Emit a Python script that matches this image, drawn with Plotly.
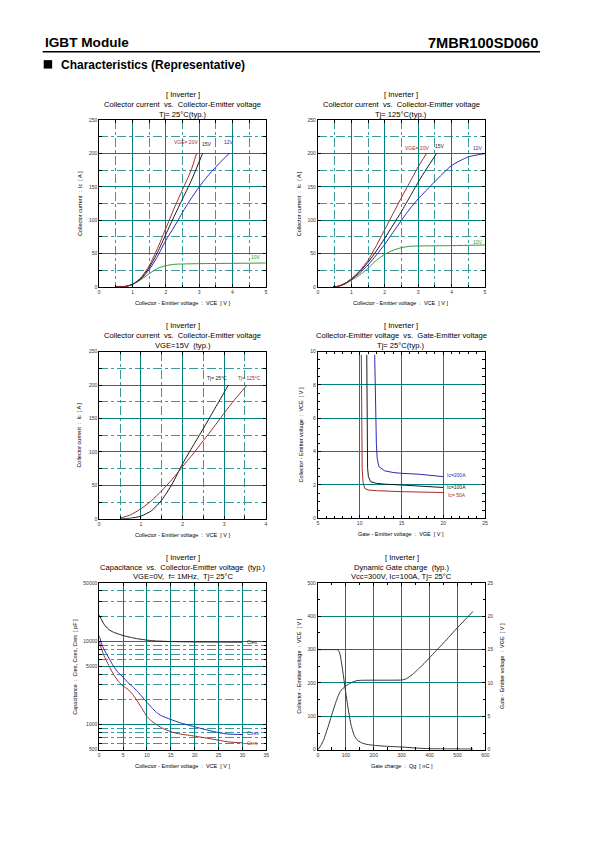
import math
import plotly.graph_objects as go

W, H = 595, 842
OFF = 8  # default page body margin of the browser
FONT = "Liberation Sans, Arial, Helvetica, sans-serif"
TEAL = "#008080"
RED = "#a52a2a"
BLUE = "#2a2ab8"
GREEN = "#2e9e2e"
BLACK = "#1a1a1a"

# ---------------- data ----------------
# Chart 1: Ic vs VCE, Tj=25C
c1_20v_x = [0.5, 0.8, 1.0, 1.25, 1.5, 1.75, 2.0, 2.25, 2.5, 2.75, 2.92]
c1_20v_y = [0, 1, 4, 14, 32, 58, 88, 118, 146, 174, 200]
c1_15v_x = [0.5, 0.8, 1.0, 1.25, 1.5, 1.75, 2.0, 2.25, 2.5, 2.75, 3.1]
c1_15v_y = [0, 1, 4, 13, 29, 52, 79, 106, 132, 158, 200]
c1_12v_x = [0.5, 0.8, 1.0, 1.25, 1.5, 1.75, 2.0, 2.25, 2.5, 2.75, 3.0, 3.25, 3.5, 3.75, 3.9]
c1_12v_y = [0, 1, 4, 12, 26, 46, 70, 90, 112, 132, 150, 166, 180, 193, 200]
c1_10v_x = [0.5, 0.8, 1.0, 1.25, 1.5, 1.75, 2.0, 2.25, 2.5, 3.0, 4.0, 5.0]
c1_10v_y = [0, 1, 4, 11, 20, 28, 32, 34, 34.5, 35, 35.5, 36]

# Chart 2: Ic vs VCE, Tj=125C
c2_20v_x = [0.45, 0.6, 0.8, 1.0, 1.25, 1.5, 1.75, 2.0, 2.25, 2.5, 2.75, 3.0, 3.25]
c2_20v_y = [0, 1, 5, 12, 24, 40, 62, 86, 110, 134, 157, 180, 200]
c2_15v_x = [0.45, 0.6, 0.8, 1.0, 1.25, 1.5, 1.75, 2.0, 2.25, 2.5, 2.75, 3.0, 3.25, 3.55]
c2_15v_y = [0, 1, 5, 12, 23, 37, 54, 73, 93, 113, 135, 157, 177, 200]
c2_12v_x = [0.45, 0.6, 0.8, 1.0, 1.25, 1.5, 1.75, 2.0, 2.25, 2.5, 2.75, 3.0, 3.5, 4.0, 4.5, 5.0]
c2_12v_y = [0, 1, 5, 11, 21, 33, 48, 64, 82, 100, 117, 132, 158, 182, 195, 200]
c2_10v_x = [0.45, 0.6, 0.8, 1.0, 1.25, 1.5, 1.75, 2.0, 2.25, 2.5, 2.75, 3.0, 4.0, 5.0]
c2_10v_y = [0, 1, 4, 10, 18, 28, 40, 49, 55, 59, 61, 61.5, 62, 63]

# Chart 3: Ic vs VCE, VGE=15V
c3_25_x = [0.5, 0.75, 1.0, 1.25, 1.5, 1.75, 2.0, 2.25, 2.5, 2.75, 3.0, 3.1]
c3_25_y = [0, 1, 4, 12, 28, 52, 82, 109, 135, 162, 189, 200]
c3_125_x = [0.5, 0.75, 1.0, 1.25, 1.5, 1.75, 2.0, 2.25, 2.5, 2.75, 3.0, 3.25, 3.55]
c3_125_y = [1, 6, 15, 27, 42, 59, 78, 97, 117, 137, 158, 178, 200]

# Chart 4: VCE vs VGE
c4_50_x = [10.2, 10.22, 10.25, 10.3, 10.4, 10.6, 11.0, 12.0, 15.0, 20.0]
c4_50_y = [9.8, 6.0, 4.0, 3.0, 2.2, 1.8, 1.7, 1.66, 1.6, 1.55]
c4_100_x = [10.85, 10.87, 10.9, 10.95, 11.05, 11.3, 12.0, 13.0, 15.0, 20.0]
c4_100_y = [9.8, 6.0, 4.0, 3.0, 2.5, 2.2, 2.1, 2.05, 2.0, 1.85]
c4_200_x = [11.8, 11.85, 11.95, 12.0, 12.1, 12.3, 13.0, 14.0, 15.0, 17.0, 20.0]
c4_200_y = [9.8, 8.0, 6.0, 4.5, 3.6, 3.1, 2.85, 2.75, 2.7, 2.65, 2.5]

# Chart 5: Capacitance vs VCE
c5_x = [0, 0.5, 1, 2, 3, 4, 5, 6, 7, 8, 9, 10, 11, 12, 13, 15, 17, 20, 23, 25, 27, 30]
cies = [20500, 18000, 16000, 13800, 12800, 12200, 11700, 11300, 11000, 10700, 10500, 10300,
        10150, 10050, 10000, 9900, 9850, 9800, 9780, 9760, 9750, 9750]
coes = [11600, 9300, 8000, 6300, 5000, 4200, 3700, 3200, 2850, 2500, 2150, 1850,
        1600, 1400, 1280, 1150, 1050, 940, 850, 800, 770, 760]
cres = [9800, 8000, 6700, 5100, 4000, 3300, 2900, 2650, 2300, 1900, 1550, 1250,
        1100, 1000, 920, 820, 770, 728, 680, 650, 620, 605]

# Chart 6: Dynamic gate charge
c6_vce_q = [0, 30, 60, 72, 78, 84, 90, 96, 102, 108, 114, 120, 126, 131, 140, 155, 175, 202,
            250, 303, 350, 400, 450, 555]
c6_vce = [300, 300, 300, 299, 290, 264, 230, 194, 158, 125, 95, 70, 53, 41, 30, 21, 16, 13,
          10, 8, 5, 3, 2.5, 2]
c6_vge_q = [0, 10, 20, 37, 54, 65, 72, 80, 90, 102, 115, 125, 140, 155, 200, 250, 300, 315,
            330, 345, 360, 380, 400, 450, 500, 555]
c6_vge = [0, 0.6, 1.4, 3.5, 5.8, 7.2, 8.0, 8.7, 9.2, 9.6, 9.95, 10.15, 10.35, 10.4, 10.42,
          10.42, 10.45, 10.6, 11.0, 11.5, 12.1, 12.9, 13.8, 16.0, 18.3, 20.7]

# ---------------- helpers ----------------
def px(x):
    return (x - OFF) / W


def py(y):
    return 1 - (y - OFF) / H


fig = go.Figure()
annotations = []
shapes = []


def txt(x, y, s, size=7, color="black", angle=0, xanchor="center", bold=False):
    if bold:
        s = "<b>" + s + "</b>"
    annotations.append(dict(x=px(x), y=py(y), xref="paper", yref="paper", text=s,
                            showarrow=False, textangle=angle, xanchor=xanchor,
                            yanchor="middle",
                            font=dict(size=size, color=color, family=FONT)))


def dlabel(n, x, y, s, color):
    xr = "x" if n == 1 else "x%d" % n
    yr = "y" if n == 1 else "y%d" % n
    annotations.append(dict(x=x, y=y, xref=xr, yref=yr, text=s, showarrow=False,
                            xanchor="center", yanchor="middle",
                            font=dict(size=5, color=color, family=FONT)))


def line(n, xs, ys, color, yaxis=None, shape="spline"):
    xa = "x" if n == 1 else "x%d" % n
    ya = yaxis if yaxis else ("y" if n == 1 else "y%d" % n)
    fig.add_trace(go.Scatter(x=xs, y=ys, mode="lines", xaxis=xa, yaxis=ya,
                             line=dict(color=color, width=1, shape=shape, smoothing=0.6),
                             showlegend=False, hoverinfo="skip"))


def axis(dom, anchor, rng, dtick=None, minor_dtick=None, minor_grid=False, **kw):
    d = dict(domain=dom, anchor=anchor, range=rng, showline=True, linecolor="black",
             linewidth=1, mirror="ticks", ticks="inside", ticklen=3, tickcolor="black",
             tickwidth=0.7,
             tickfont=dict(size=5, color="#333", family=FONT), showgrid=True,
             gridcolor=TEAL, gridwidth=1, zeroline=False, fixedrange=True)
    if dtick is not None:
        d["dtick"] = dtick
        d["tick0"] = 0
    if minor_dtick is not None:
        d["minor"] = dict(dtick=minor_dtick, ticks="inside", ticklen=2.5,
                          tickcolor="black", tickwidth=0.7, showgrid=minor_grid,
                          gridcolor="#3a9a9a", gridwidth=0.6, griddash="dashdot")
    d.update(kw)
    return d


# plot area pixel boxes (left, right, top, bottom) in page pixels
boxes = {
    1: (99, 267, 118, 286),
    2: (319.5, 488, 118, 286),
    3: (99, 267, 351, 519.5),
    4: (319.5, 488, 351, 519),
    5: (99, 267.5, 584, 752),
    6: (319.5, 488.5, 584, 752),
}


def xdom(n):
    b = boxes[n]
    return [px(b[0]), px(b[1])]


def ydom(n):
    b = boxes[n]
    return [py(b[3]), py(b[2])]


# ---------------- traces ----------------
line(1, c1_10v_x, c1_10v_y, GREEN)
line(1, c1_12v_x, c1_12v_y, BLUE)
line(1, c1_15v_x, c1_15v_y, BLACK)
line(1, c1_20v_x, c1_20v_y, RED)

line(2, c2_10v_x, c2_10v_y, GREEN)
line(2, c2_12v_x, c2_12v_y, BLUE)
line(2, c2_15v_x, c2_15v_y, BLACK)
line(2, c2_20v_x, c2_20v_y, RED)

line(3, c3_25_x, c3_25_y, BLACK)
line(3, c3_125_x, c3_125_y, RED)

line(4, c4_50_x, c4_50_y, RED, shape="linear")
line(4, c4_100_x, c4_100_y, BLACK, shape="linear")
line(4, c4_200_x, c4_200_y, BLUE, shape="linear")

line(5, c5_x, cies, BLACK)
line(5, c5_x, coes, BLUE)
line(5, c5_x, cres, RED)

line(6, c6_vce_q, c6_vce, "#333333")
line(6, c6_vge_q, c6_vge, "#333333", yaxis="y7")

# ---------------- axes ----------------
layout_axes = {}
layout_axes["xaxis"] = axis(xdom(1), "y", [0, 5], 1, 0.5, True)
layout_axes["yaxis"] = axis(ydom(1), "x", [0, 250], 50, 25, True)
layout_axes["xaxis2"] = axis(xdom(2), "y2", [0, 5], 1, 0.5, True)
layout_axes["yaxis2"] = axis(ydom(2), "x2", [0, 250], 50, 25, True)
layout_axes["xaxis3"] = axis(xdom(3), "y3", [0, 4], 1, 0.5, True)
layout_axes["yaxis3"] = axis(ydom(3), "x3", [0, 250], 50, 25, True)
layout_axes["xaxis4"] = axis(xdom(4), "y4", [5, 25], 5, 1, False)
layout_axes["yaxis4"] = axis(ydom(4), "x4", [0, 10], 2, 0.5, False)
layout_axes["xaxis5"] = axis(xdom(5), "y5", [0, 35], 5, None, False)
cap_ticks = [500, 1000, 5000, 10000, 50000]
cap_minor = [600, 700, 800, 900, 2000, 3000, 4000, 6000, 7000, 8000, 9000, 20000, 30000, 40000]
y5 = axis(ydom(5), "x5", [math.log10(500), math.log10(50000)], None, None, False,
          type="log", tickmode="array", tickvals=cap_ticks,
          ticktext=[str(v) for v in cap_ticks])
y5["minor"] = dict(tickmode="array", tickvals=cap_minor, ticks="inside", ticklen=2.5,
                   tickcolor="black", tickwidth=0.7, showgrid=True, gridcolor="#3a9a9a",
                   gridwidth=0.6, griddash="dashdot")
layout_axes["yaxis5"] = y5
layout_axes["xaxis6"] = axis(xdom(6), "y6", [0, 600], 100, 50, False)
layout_axes["yaxis6"] = axis(ydom(6), "x6", [0, 500], 100, 50, False, mirror=True)
layout_axes["yaxis7"] = axis(ydom(6), "x6", [0, 25], 5, 2.5, False, overlaying="y6",
                             side="right", showgrid=False, mirror=False)

# ---------------- texts ----------------
# header
txt(42, 40, "IGBT Module", size=13.6, xanchor="left", bold=True)
txt(543.5, 40, "7MBR100SD060", size=14.6, xanchor="right", bold=True)
shapes.append(dict(type="line", xref="paper", yref="paper", x0=px(42), x1=px(543.5),
                   y0=py(49), y1=py(49), line=dict(color="black", width=1.6)))
shapes.append(dict(type="rect", xref="paper", yref="paper", x0=px(43), x1=px(51.5),
                   y0=py(66), y1=py(57.5), fillcolor="black", line=dict(width=0)))
txt(58, 62, "Characteristics (Representative)", size=12, xanchor="left", bold=True)

titles = {
    1: ("[ Inverter ]", "Collector current  vs.  Collector-Emitter voltage", "Tj= 25°C(typ.)"),
    2: ("[ Inverter ]", "Collector current  vs.  Collector-Emitter voltage", "Tj= 125°C(typ.)"),
    3: ("[ Inverter ]", "Collector current  vs.  Collector-Emitter voltage", "VGE=15V  (typ.)"),
    4: ("[ Inverter ]", "Collector-Emitter voltage  vs.  Gate-Emitter voltage", "Tj= 25°C(typ.)"),
    5: ("[ Inverter ]", "Capacitance  vs.  Collector-Emitter voltage  (typ.)",
        "VGE=0V,  f= 1MHz,  Tj= 25°C"),
    6: ("[ Inverter ]", "Dynamic Gate charge  (typ.)", "Vcc=300V, Ic=100A, Tj= 25°C"),
}
for n, (a, b, c) in titles.items():
    l, r, t, bt = boxes[n]
    cx = (l + r) / 2
    txt(cx, t - 26, a, size=7.6)
    txt(cx, t - 16, b, size=7.6)
    txt(cx, t - 6, c, size=7.6)

XT_VCE = "Collector - Emitter voltage  :  VCE  [ V ]"
xtitles = {1: XT_VCE, 2: XT_VCE, 3: XT_VCE, 4: "Gate - Emitter voltage  :  VGE  [ V ]",
           5: XT_VCE, 6: "Gate charge  :  Qg  [ nC ]"}
ytitles = {1: "Collector current  :  Ic  [ A ]", 2: "Collector current  :  Ic  [ A ]",
           3: "Collector current  :  Ic  [ A ]", 4: XT_VCE,
           5: "Capacitance  :  Cies, Coes, Cres  [ pF ]", 6: XT_VCE}
yt_x = {1: 79, 2: 300, 3: 79, 4: 302, 5: 75, 6: 301}
for n in boxes:
    l, r, t, bt = boxes[n]
    txt((l + r) / 2, bt + 16, xtitles[n], size=5.5)
    txt(yt_x[n], (t + bt) / 2, ytitles[n], size=5.5, angle=-90)
txt(505, 668, "Gate - Emitter voltage  :  VGE  [ V ]", size=5.5, angle=-90)

# data labels
dlabel(1, 2.6, 217, "VGE= 20V", RED)
dlabel(1, 3.22, 215, "15V", BLACK)
dlabel(1, 3.9, 217, "12V", BLUE)
dlabel(1, 4.72, 45, "10V", GREEN)
dlabel(2, 2.97, 208, "VGE= 20V", RED)
dlabel(2, 3.65, 211, "15V", BLACK)
dlabel(2, 4.8, 208, "12V", BLUE)
dlabel(2, 4.78, 68, "10V", GREEN)
dlabel(3, 2.82, 211, "Tj= 25°C", BLACK)
dlabel(3, 3.6, 211, "Tj= 125°C", RED)
dlabel(4, 21.6, 2.6, "Ic=200A", BLUE)
dlabel(4, 21.6, 1.85, "Ic=100A", BLACK)
dlabel(4, 21.6, 1.4, "Ic= 50A", RED)
dlabel(5, 32.2, math.log10(9800), "Cies", BLACK)
dlabel(5, 32.2, math.log10(800), "Coes", BLUE)
dlabel(5, 32.2, math.log10(605), "Cres", RED)

fig.update_layout(width=W, height=H, margin=dict(l=0, r=0, t=0, b=0),
                  paper_bgcolor="white", plot_bgcolor="white", showlegend=False,
                  font=dict(family=FONT, color="black"),
                  annotations=annotations, shapes=shapes, **layout_axes)

fig.write_html("out.html")
